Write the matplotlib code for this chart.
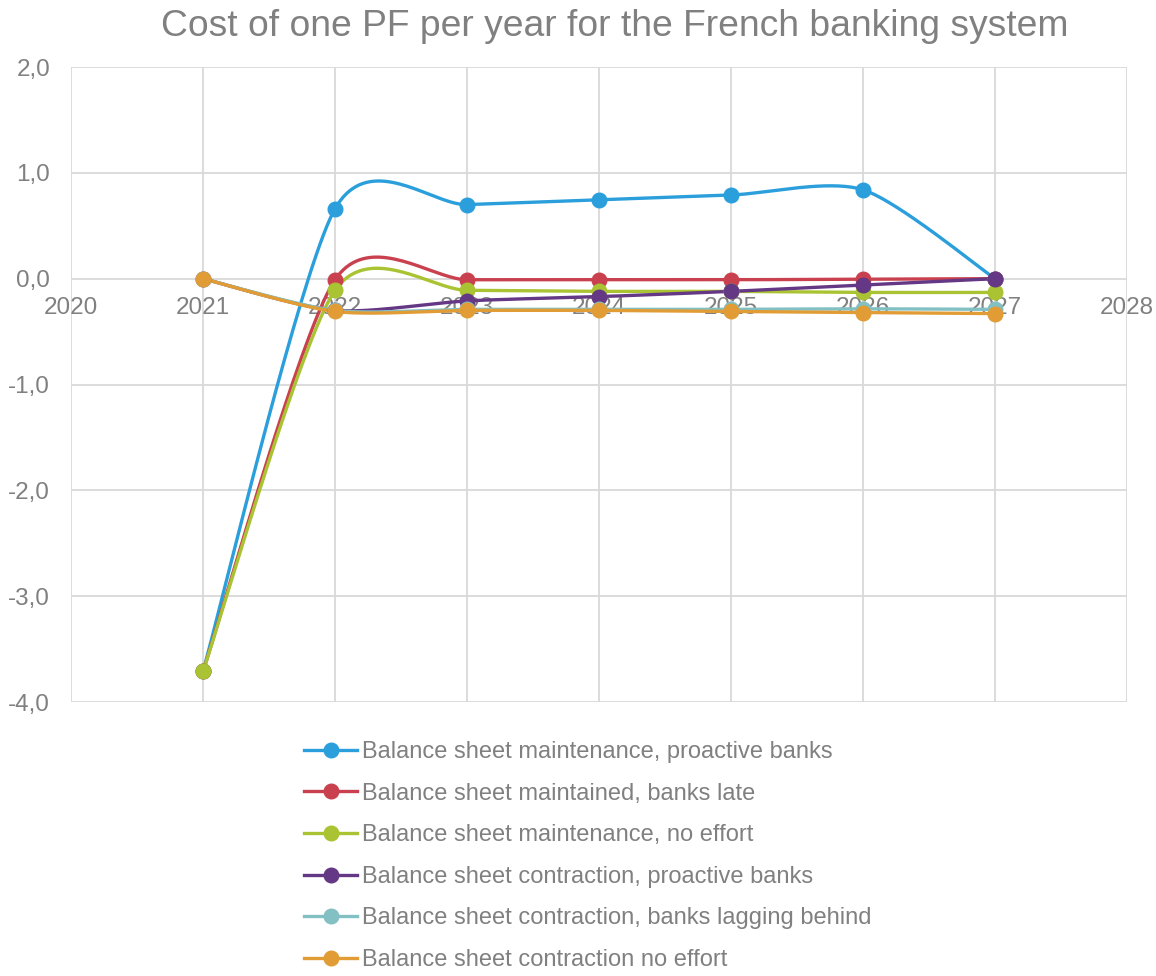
import numpy as np
import matplotlib
matplotlib.use('agg')
import matplotlib.pyplot as plt
from matplotlib.lines import Line2D

plt.rcParams['font.family'] = ['Liberation Sans', 'DejaVu Sans']

years = [2021, 2022, 2023, 2024, 2025, 2026, 2027]

maint_proactive = [-3.71, 0.66, 0.70, 0.745, 0.79, 0.84, 0.0]
maint_late = [-3.71, -0.01, -0.01, -0.01, -0.01, -0.005, 0.0]
maint_noeffort = [-3.71, -0.11, -0.11, -0.12, -0.12, -0.13, -0.13]
contr_proactive = [0.0, -0.30, -0.21, -0.17, -0.12, -0.06, 0.0]
contr_lagging = [0.0, -0.30, -0.29, -0.29, -0.29, -0.285, -0.29]
contr_noeffort = [0.0, -0.31, -0.30, -0.30, -0.31, -0.32, -0.33]

labels = ["Balance sheet maintenance, proactive banks",
          "Balance sheet maintained, banks late",
          "Balance sheet maintenance, no effort",
          "Balance sheet contraction, proactive banks",
          "Balance sheet contraction, banks lagging behind",
          "Balance sheet contraction no effort"]
series = [maint_proactive, maint_late, maint_noeffort,
          contr_proactive, contr_lagging, contr_noeffort]
colors = ['#2b9fdc', '#c9414f', '#a9c332', '#643884', '#82c0c4', '#e19c35']

grey = '#808080'
grid_c = '#d9d9d9'


def smooth(x, y, k=0.13, n=40):
    # excel-like bezier smoothing (catmull-rom style control points)
    x = np.asarray(x, float)
    y = np.asarray(y, float)
    px = np.concatenate([[x[0]], x, [x[-1]]])
    py = np.concatenate([[y[0]], y, [y[-1]]])
    t = np.linspace(0, 1, n)
    xs, ys = [], []
    for i in range(1, len(px) - 2):
        p0 = np.array([px[i], py[i]])
        p3 = np.array([px[i + 1], py[i + 1]])
        c1 = p0 + (p3 - np.array([px[i - 1], py[i - 1]])) * k
        c2 = p3 - (np.array([px[i + 2], py[i + 2]]) - p0) * k
        b = ((1 - t) ** 3)[:, None] * p0 + (3 * (1 - t) ** 2 * t)[:, None] * c1 \
            + (3 * (1 - t) * t ** 2)[:, None] * c2 + (t ** 3)[:, None] * p3
        xs.append(b[:, 0])
        ys.append(b[:, 1])
    return np.concatenate(xs), np.concatenate(ys)


fig = plt.figure(figsize=(11.56, 9.76), dpi=100)
ax = fig.add_axes([71 / 1156, 1 - 702 / 976, 1056 / 1156, 635 / 976])

for s, c, lab in zip(series, colors, labels):
    sx, sy = smooth(years, s)
    ax.plot(sx, sy, color=c, lw=2.4, zorder=3, solid_capstyle='round')
    ax.plot(years, s, 'o', color=c, ms=10.5, zorder=4)

ax.set_xlim(2020, 2028)
ax.set_ylim(-4, 2)
ax.set_xticks(range(2020, 2029))
ax.set_yticks(np.arange(-4, 2.1, 1))
ax.set_yticklabels([f"{v:.1f}".replace('.', ',') for v in np.arange(-4, 2.1, 1)])
ax.grid(True, color=grid_c, lw=1.3, zorder=0)
ax.set_axisbelow(True)
for sp in ax.spines.values():
    sp.set_visible(False)
ax.spines['bottom'].set_position(('data', 0))
ax.tick_params(axis='x', length=0, pad=13, labelsize=17.5, colors=grey)
ax.tick_params(axis='y', length=0, pad=15, labelsize=17.5, colors=grey)

fig.text(615 / 1156, 1 - 26 / 976, "Cost of one PF per year for the French banking system",
         ha='center', va='center', fontsize=26.8, color=grey)

handles = [Line2D([], [], color=c, lw=2.4, marker='o', ms=10.5) for c in colors]
fig.legend(handles, labels, loc='upper left', bbox_to_anchor=(304 / 1156, 1 - 741 / 976),
           frameon=False, fontsize=17, labelcolor=grey, handlelength=2.25,
           handletextpad=0.2, labelspacing=0.83, borderaxespad=0, borderpad=0)

fig.savefig('out.png', dpi=100)
